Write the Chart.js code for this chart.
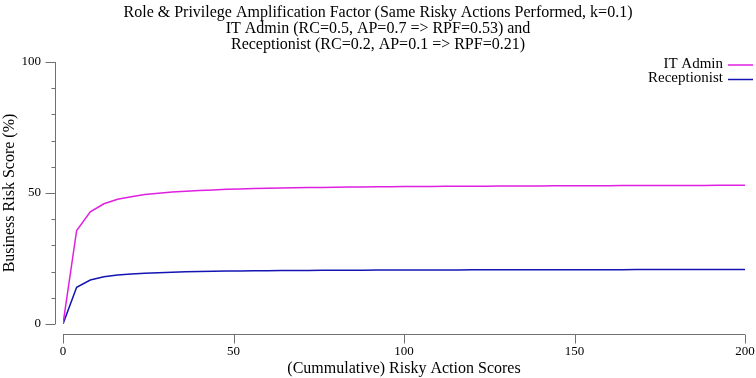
<!DOCTYPE html>
<html>
<head>
<meta charset="utf-8">
<script src="https://cdn.jsdelivr.net/npm/chart.js"></script>
<style>
  html, body { margin: 0; padding: 0; background: #fff; }
  #wrap { width: 756px; height: 378px; }
</style>
</head>
<body>
<div id="wrap"><canvas id="c"></canvas></div>
<script>
// (cummulative) risky action scores, sampled every 4
const riskyActionScores = [
  0, 4, 8, 12, 16, 20, 24, 28, 32, 36, 40, 44, 48, 52, 56, 60, 64, 68, 72, 76,
  80, 84, 88, 92, 96, 100, 104, 108, 112, 116, 120, 124, 128, 132, 136, 140,
  144, 148, 152, 156, 160, 164, 168, 172, 176, 180, 184, 188, 192, 196, 200
];
const itAdminScore = [
  0, 35.7, 42.8, 45.9, 47.6, 48.6, 49.4, 49.9, 50.4, 50.7, 51.0, 51.2, 51.4, 51.5, 51.7, 51.8, 51.9, 52.0, 52.1, 52.1,
  52.2, 52.3, 52.3, 52.4, 52.4, 52.5, 52.5, 52.5, 52.6, 52.6, 52.6, 52.6, 52.7, 52.7, 52.7, 52.7,
  52.8, 52.8, 52.8, 52.8, 52.8, 52.9, 52.9, 52.9, 52.9, 52.9, 52.9, 52.9, 53.0, 53.0, 53.0
];
const receptionistScore = [
  0, 14.0, 16.8, 18.0, 18.7, 19.1, 19.4, 19.6, 19.8, 19.9, 20.0, 20.1, 20.2, 20.2, 20.3, 20.3, 20.4, 20.4, 20.4, 20.5,
  20.5, 20.5, 20.5, 20.6, 20.6, 20.6, 20.6, 20.6, 20.6, 20.6, 20.7, 20.7, 20.7, 20.7, 20.7, 20.7,
  20.7, 20.7, 20.7, 20.7, 20.7, 20.7, 20.8, 20.8, 20.8, 20.8, 20.8, 20.8, 20.8, 20.8, 20.8
];
const seriesNames = ['IT Admin', 'Receptionist'];
const titleLines = [
  'Role & Privilege Amplification Factor (Same Risky Actions Performed, k=0.1)',
  'IT Admin (RC=0.5, AP=0.7 => RPF=0.53) and',
  'Receptionist (RC=0.2, AP=0.1 => RPF=0.21)'
];

const SERIF = '"Liberation Serif", "DejaVu Serif", serif';
const AXIS_GREY = '#707070';

const toPoints = ys => riskyActionScores.map((x, i) => ({ x: x, y: ys[i] }));

// gnuplot-style detached axes: y axis left of the plot, x axis below it
const offsetAxes = {
  id: 'offsetAxes',
  beforeDatasetsDraw(chart) {
    const { ctx, chartArea, scales: { x, y } } = chart;
    ctx.save();
    ctx.strokeStyle = AXIS_GREY;
    ctx.lineWidth = 1;
    ctx.beginPath();
    // y axis
    const ax = Math.round(chartArea.left - 8) + 0.5;
    ctx.moveTo(ax, y.getPixelForValue(y.min));
    ctx.lineTo(ax, y.getPixelForValue(y.max));
    for (let v = y.min; v <= y.max; v += 10) {
      const py = Math.round(y.getPixelForValue(v)) + 0.5;
      const len = v % 50 === 0 ? 10 : 4;
      ctx.moveTo(ax - len, py);
      ctx.lineTo(ax, py);
    }
    // x axis
    const ay = Math.round(chartArea.bottom + 10) + 0.5;
    ctx.moveTo(x.getPixelForValue(x.min), ay);
    ctx.lineTo(x.getPixelForValue(x.max), ay);
    x.ticks.forEach(t => {
      const px = Math.round(x.getPixelForValue(t.value)) + 0.5;
      ctx.moveTo(px, ay);
      ctx.lineTo(px, ay + 9);
    });
    ctx.stroke();
    ctx.restore();
  }
};

// key in the top-right corner: text first, sample line after it
const rightKey = {
  id: 'rightKey',
  afterDraw(chart) {
    const { ctx } = chart;
    ctx.save();
    ctx.font = '15px ' + SERIF;
    ctx.textAlign = 'right';
    ctx.textBaseline = 'middle';
    chart.data.datasets.forEach((ds, i) => {
      const yy = 64 + i * 14.5;
      ctx.fillStyle = '#000';
      ctx.fillText(ds.label, 723, yy);
      ctx.strokeStyle = ds.borderColor;
      ctx.lineWidth = 1.5;
      ctx.beginPath();
      ctx.moveTo(728, yy + 1);
      ctx.lineTo(753, yy + 1);
      ctx.stroke();
    });
    ctx.restore();
  }
};

new Chart(document.getElementById('c'), {
  type: 'line',
  data: {
    datasets: [
      { label: seriesNames[0], data: toPoints(itAdminScore), borderColor: '#e020e0', borderWidth: 1.5 },
      { label: seriesNames[1], data: toPoints(receptionistScore), borderColor: '#1414b4', borderWidth: 1.5 }
    ]
  },
  options: {
    responsive: true,
    maintainAspectRatio: false,
    animation: false,
    elements: { point: { radius: 0 }, line: { tension: 0 } },
    layout: { padding: 0 },
    plugins: {
      legend: { display: false },
      tooltip: { enabled: false },
      title: {
        display: true,
        text: titleLines,
        color: '#000',
        font: { family: SERIF, size: 16, weight: 'normal', lineHeight: 0.97 },
        padding: { top: 5.5, bottom: 10 }
      }
    },
    scales: {
      x: {
        type: 'linear',
        min: 0, max: 200,
        grid: { display: false, drawTicks: false },
        border: { display: false },
        ticks: { stepSize: 50, padding: 20, color: '#000', font: { family: SERIF, size: 13 } },
        title: {
          display: true, text: '(Cummulative) Risky Action Scores', color: '#000',
          font: { family: SERIF, size: 16 }, padding: { top: 0, bottom: 0 }
        },
        afterFit: s => { s.height = 54; s.paddingRight = 11; s.paddingLeft = 0; }
      },
      y: {
        min: 0, max: 100,
        grid: { display: false, drawTicks: false },
        border: { display: false },
        ticks: { stepSize: 50, padding: 22, color: '#000', font: { family: SERIF, size: 13 } },
        title: {
          display: true, text: 'Business Risk Score (%)', color: '#000',
          font: { family: SERIF, size: 16 }, padding: { top: 0.5, bottom: 0 }
        },
        afterFit: s => { s.width = 63; }
      }
    }
  },
  plugins: [offsetAxes, rightKey]
});
</script>
</body>
</html>
